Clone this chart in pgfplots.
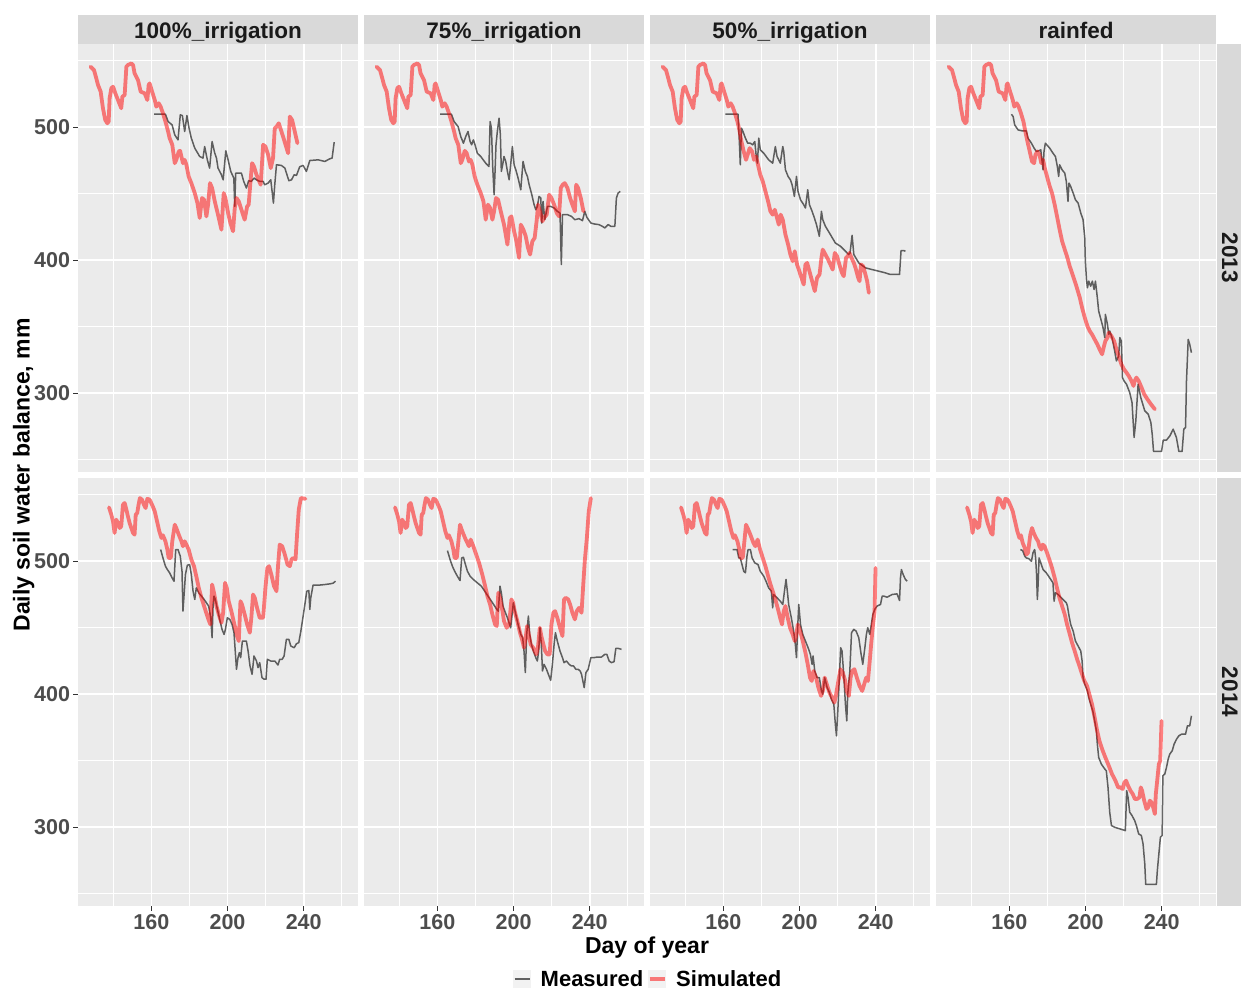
\documentclass[border=0pt]{standalone}
\usepackage{pgfplots}
\pgfplotsset{compat=1.18}
\usepackage{fontspec}
\setmainfont{Liberation Sans}
\definecolor{panelbg}{HTML}{EBEBEB}
\definecolor{stripbg}{HTML}{D9D9D9}
\definecolor{ticktext}{HTML}{4D4D4D}
\definecolor{tickcol}{HTML}{333333}
\definecolor{striptext}{HTML}{1A1A1A}
\definecolor{keybg}{HTML}{F2F2F2}

\pgfplotsset{
  panel/.style={
    scale only axis, width=280pt, height=428pt,
    xmin=121.5, xmax=268.5, ymin=240.8, ymax=562.6,
    axis background/.style={fill=panelbg},
    axis line style={draw=none},
    xtick={160,200,240}, minor xtick={140,180,220,260},
    ytick={300,400,500}, minor ytick={250,350,450,550},
    grid=both,
    major grid style={white, line width=1.6pt},
    minor grid style={white, line width=0.8pt},
    tick align=outside, tick pos=left,
    major tick length=4.5pt, minor tick length=0pt,
    tick style={tickcol, line width=1.2pt},
    /pgf/number format/assume math mode=true,
    ticklabel style={font=\fontsize{21.5}{22}\selectfont\bfseries, text=ticktext},
  },
  noxlab/.style={xticklabels={}, x tick style={draw=none}},
  noylab/.style={yticklabels={}, y tick style={draw=none}},
  meas/.style={black, opacity=0.6, line width=1.5pt, line join=round},
  sim/.style={red, opacity=0.5, line width=3.8pt, line join=round, line cap=round},
}

\begin{document}
\begin{tikzpicture}[x=1pt, y=1pt]
\useasboundingbox (0,0) rectangle (1241,-990);

% ---------------- 2013 ----------------
% 100% irrigation
\begin{axis}[panel, noxlab, at={(78pt,-472pt)}, anchor=south west]
\addplot[meas] coordinates {
(161.4,509.8) (167.4,509.8) (168.8,504.3) (170.9,501.8) (172.3,494.3) (174,490.5) (175.2,509.3) (176.3,508.8)
(177.5,496.8) (178.7,508.8) (179.8,499.3) (181,491.8) (182.8,484.3) (185.4,478) (187.1,476.8) (188,485.5)
(189.4,475.5) (190.6,469.3) (191.9,489.3) (193.3,480.5) (194.2,476.8) (195,469.3) (196.8,464.3) (197.7,460.5)
(199.1,482.3) (200.3,475.5) (201.7,466.8) (203.3,461.8) (203.8,440.5) (204.3,465.5) (207.3,465.5) (208.5,459.3)
(209.9,454.3) (211.1,459.8) (212.5,459.3) (213.9,461.8) (215.2,460.5) (216.9,459.3) (218.7,459.3) (219.5,456.8)
(221.3,458) (222.7,460.5) (223.4,451.8) (224.1,443) (224.8,456.8) (225.7,471.8) (228.3,471.3) (230.1,469.3)
(232.2,459.8) (233.6,460.5) (235,464.3) (236.2,463.8) (237.9,470.3) (239.7,471.3) (241.4,466.8) (243.2,475)
(247.6,475.5) (251.1,474.3) (253.7,476.3) (254.9,476.8) (256,488.8)
};
\addplot[sim] coordinates {
(128.1,545.5) (129.9,543) (131.1,536.8) (132,531.8) (133.4,526.8) (134.6,514.3) (135.8,505.5) (136.9,503)
(137.6,504.3) (138.1,521.8) (139,529.3) (139.9,530.5) (141.1,525.5) (142.5,520.5) (144.2,514.3) (144.8,523)
(146,524.3) (146.9,545.5) (147.7,546.8) (149.5,548) (150.4,546.8) (151.2,540.5) (153,535.5) (154.4,526.8)
(156.5,525.5) (157.9,520.5) (158.6,531.8) (159.1,533) (160.4,526.8) (161.8,520.5) (162.6,515.5) (163.9,518)
(164.9,515.5) (166.1,510.5) (167.4,504.3) (168.8,496.8) (169.6,491.8) (171,486.8) (172.3,473) (173.1,475.5)
(174.4,481.8) (175.1,482.3) (176.6,473) (177.5,475.5) (178.4,471.8) (179.6,463) (181,458) (182.8,450.5)
(184.2,443) (185.4,431.8) (186.6,446.8) (187.7,445.5) (188.9,433) (189.8,441.8) (190.8,458) (191.9,454.3)
(193.3,444.3) (195,434.3) (196.8,423) (198,450.5) (198.9,446.8) (200.3,435.5) (201.5,428) (202.9,421.8)
(203.8,439.3) (204.7,446.8) (205.9,444.3) (207.3,438) (209,430.5) (210.3,440.5) (211.1,441.8) (212.2,461.8)
(212.9,473) (213.9,470.5) (215.2,464.3) (217.4,456.8) (218.7,486.8) (219.9,485.5) (221.3,479.3) (222.7,469.3)
(223.9,476.8) (224.8,499.3) (225.8,500.5) (226.9,503) (228.3,496.8) (229.7,490.5) (231.8,480.5) (232.7,508)
(233.9,505.5) (235.3,496.8) (236.7,488)
};
\end{axis}

% 75% irrigation
\begin{axis}[panel, noxlab, noylab, at={(364pt,-472pt)}, anchor=south west]
\addplot[meas] coordinates {
(161.4,509.8) (167.4,509.8) (168.8,504.3) (170.9,500.5) (172.3,493) (173.7,488) (174.9,493) (176.1,496.8)
(177.2,489.3) (178,486.8) (178.9,490.5) (179.8,486.8) (181,480.5) (182.8,478) (185.4,473) (187.1,470.5)
(187.7,504.3) (188.4,499.3) (189.1,469.3) (189.8,449.3) (190.3,466.8) (190.8,486.8) (191.5,496.8) (192.4,506.8)
(193.1,494.3) (193.6,466.8) (194.3,471.8) (195,478) (195.9,474.3) (196.8,466.8) (197.7,460.5) (198.5,471.8)
(199.4,485.5) (200.3,471.8) (201.2,468) (202.4,461.8) (203.8,453) (205,474.3) (206.2,466.8) (207.3,463)
(208.2,456.8) (209.6,449.3) (210.8,441.8) (211.7,438) (212.5,440.5) (213.4,448) (214.3,446.8) (214.8,428)
(215.5,444.3) (216.4,430.5) (217.3,436.8) (217.8,440.5) (219.5,440.5) (221.3,439.3) (223,436.8) (224.4,435.5)
(225.1,396.8) (225.7,434.3) (228.3,434.3) (230.4,433) (232.2,430.5) (234.4,431.3) (236.2,429.8) (237.4,436.8)
(238.5,432.3) (240.6,428) (242.3,427.3) (244.9,426.8) (246.7,425.5) (247.9,424.3) (249.7,426.8) (251.1,425.5)
(253.2,425.5) (254,446.8) (254.9,450.5) (256,451.8)
};
\addplot[sim] coordinates {
(128.1,545.5) (129.9,543) (131.1,536.8) (132,531.8) (133.4,526.8) (134.6,514.3) (135.8,505.5) (136.9,503)
(137.6,504.3) (138.1,521.8) (139,529.3) (139.9,530.5) (141.1,525.5) (142.5,520.5) (144.2,514.3) (144.8,523)
(146,524.3) (146.9,545.5) (147.7,546.8) (149.5,548) (150.4,546.8) (151.2,540.5) (153,535.5) (154.4,526.8)
(156.5,525.5) (157.9,520.5) (158.6,531.8) (159.1,533) (160.4,526.8) (161.8,520.5) (162.6,515.5) (163.9,518)
(164.9,515.5) (166.1,510.5) (167.4,504.3) (168.8,496.8) (169.6,491.8) (171,486.8) (172.3,473) (173.1,475.5)
(174.4,482.3) (175.4,480.5) (176.6,474.3) (177.5,475.5) (178.4,471.8) (179.6,463) (181,456.8) (182.8,450.5)
(184.2,444.3) (185.4,430.5) (186.6,441.8) (187.7,439.3) (188.9,430.5) (189.8,436.8) (190.8,446.8) (191.9,445.5)
(193.3,436.8) (195,426.8) (196.8,411.8) (198,431.8) (198.9,433) (200.3,421.8) (201.5,414.3) (202.9,401.8)
(203.8,426.8) (205.2,423) (206.4,418) (207.6,409.3) (208.7,404.3) (209.9,414.3) (211.1,416.8) (212.2,430.5)
(212.9,441.8) (213.9,436.8) (215.2,429.3) (216,431.8) (217.4,434.3) (218.7,449.3) (219.9,446.8) (221.3,441.8)
(222.7,435.5) (223.9,433) (224.8,454.3) (225.8,456.8) (226.9,458) (228.3,454.3) (229.7,446.8) (230.9,441.8)
(232.2,436.8) (232.9,456.8) (233.9,454.3) (235.3,446.8) (236.7,436.8)
};
\end{axis}

% 50% irrigation
\begin{axis}[panel, noxlab, noylab, at={(650pt,-472pt)}, anchor=south west]
\addplot[meas] coordinates {
(161.1,509.8) (167.7,509.8) (168.4,489.3) (168.9,471.8) (169.5,499.3) (170.3,496.8) (171.6,491.8) (172.8,488)
(174.2,488) (175.4,486.8) (176.5,489.3) (177.2,479.3) (177.9,473) (178.6,491.8) (179.4,483) (181.2,480.5)
(183.8,475.5) (185.9,473) (187.3,485.5) (188.2,478) (189.1,475.5) (189.9,473) (191.2,485.5) (191.7,481.8)
(192.6,468) (194,463) (195.2,460.5) (196.1,456.8) (197.3,448) (198.4,463) (199.2,451.8) (200.5,445.5)
(202.2,441.8) (203.1,439.3) (204.3,453) (205.2,441.8) (206.6,436.8) (207.8,431.8) (208.9,426.8) (210.4,418)
(211.5,436.8) (212.2,430.5) (213.6,425.5) (216.2,419.3) (218.8,413) (221.5,410.5) (224.1,406.8) (225.8,404.3)
(226.5,405.5) (227.6,418.8) (228.5,404.3) (231.1,398) (234.6,394.3) (238.1,393) (241.6,391.8) (245.1,390.5)
(247.7,389.3) (250.4,389.3) (252.5,389.3) (253.3,407.3) (254.7,407.3) (255.6,406.8)
};
\addplot[sim] coordinates {
(128.1,545.5) (129.9,543) (131.1,536.8) (132,531.8) (133.4,526.8) (134.6,514.3) (135.8,505.5) (136.9,503)
(137.6,504.3) (138.1,521.8) (139,529.3) (139.9,530.5) (141.1,525.5) (142.5,520.5) (144.2,514.3) (144.8,523)
(146,524.3) (146.9,545.5) (147.7,546.8) (149.5,548) (150.4,546.8) (151.2,540.5) (153,535.5) (154.4,526.8)
(156.5,525.5) (157.9,520.5) (158.6,531.8) (159.1,533) (160.4,526.8) (161.8,520.5) (162.6,515.5) (163.9,518)
(164.9,515.5) (166.1,510.5) (167.4,504.3) (168.4,498) (169.5,489.3) (170.7,481.8) (171.9,475.5) (173,480.5)
(173.8,484.3) (175.1,481.8) (176.1,475.5) (177.2,478) (178.2,471.8) (179.4,464.3) (180.7,459.3) (182.1,451.8)
(183.5,444.3) (184.7,436.8) (185.9,434.3) (187,438) (188.2,431.8) (189.1,426.8) (190.1,434.3) (191.2,430.5)
(192.6,419.3) (194,411.8) (195.2,404.3) (196.4,399.3) (197.5,406.8) (198.7,396.8) (199.9,391.8) (201,386.8)
(202.2,381.8) (203.1,396.8) (204,398) (205.2,391.8) (206.6,384.3) (208,376.8) (209.2,386.8) (210.5,389.3)
(211.5,401.8) (212.2,408) (213.6,404.3) (215,400.5) (216.2,396.8) (217.4,393) (218.5,405.5) (219.7,403)
(220.9,396.8) (222.3,390.5) (223.2,388) (224.4,401.8) (225.3,403) (226.2,405.5) (227.3,401.8) (228.5,398)
(229.4,394.3) (230.8,386.8) (231.5,384.3) (232.3,396.8) (233.4,395.5) (234.6,389.3) (235.5,384.3) (236.4,375.5)
};
\end{axis}

% rainfed
\begin{axis}[panel, noxlab, noylab, at={(936pt,-472pt)}, anchor=south west]
\addplot[meas] coordinates {
(161.1,509.8) (162,508) (162.8,501.8) (164.6,498) (166.7,497.3) (168.9,497.3) (169.8,491.8) (171.6,488)
(173,484.3) (174.2,481.8) (175.4,482.3) (176.5,483) (177.2,474.3) (177.7,468) (178.2,481.8) (178.9,488)
(181.2,484.3) (182.9,480.5) (184.2,478) (185.2,470.5) (185.9,463) (186.4,471.8) (187.7,468) (189.1,465.5)
(189.9,459.3) (190.8,444.3) (191.3,458) (192.2,455.5) (193.5,450.5) (194.7,445.5) (196.1,443) (197.5,435.5)
(198.7,430.5) (199.6,416.8) (199.9,399.3) (200.5,385.5) (201,379.3) (201.7,384.3) (202.7,380.5) (203.6,384.3)
(204.5,378) (205.2,384.3) (206.2,371.8) (206.9,361.8) (208.3,354.3) (209.2,349.3) (210.1,341.8) (210.4,359.3)
(211.5,351.8) (212.2,344.3) (212.7,346.8) (213.9,341.8) (215.3,331.8) (216.2,324.3) (217.4,328) (218,341.8)
(218.8,339.3) (219.4,311.8) (220.2,309.3) (221.5,306.8) (223.2,300.5) (224.4,293) (225.5,266.8) (226.4,279.3)
(227.6,306.8) (229,296.8) (231.1,286.8) (232.9,284.3) (234.3,278) (235,269.3) (235.7,256.3) (239.9,256.3)
(240.8,264.8) (242.5,264.8) (244.3,268) (246,273) (247.7,266.8) (249,256.3) (250.7,256.3) (251.6,273)
(252.5,274.3) (253,309.3) (253.9,340.5) (254.7,336.8) (255.6,330.5)
};
\addplot[sim] coordinates {
(128.1,545.5) (129.9,543) (131.1,536.8) (132,531.8) (133.4,526.8) (134.6,514.3) (135.8,505.5) (136.9,503)
(137.6,504.3) (138.1,521.8) (139,529.3) (139.9,530.5) (141.1,525.5) (142.5,520.5) (144.2,514.3) (144.8,523)
(146,524.3) (146.9,545.5) (147.7,546.8) (149.5,548) (150.4,546.8) (151.2,540.5) (153,535.5) (154.4,526.8)
(156.5,525.5) (157.9,520.5) (158.6,531.8) (159.1,533) (160.4,526.8) (161.8,520.5) (162.6,515.5) (163.9,518)
(164.9,515.5) (166.1,510.5) (167.4,504.3) (168.4,496.8) (169.5,489.3) (170.7,481.8) (171.9,474.3) (173,473)
(173.7,479.3) (174.7,481.8) (175.8,479.3) (176.8,473) (177.7,475.5) (178.6,469.3) (180,461.8) (181.2,455.5)
(182.4,450.5) (183.8,441.8) (185.2,431.8) (186.4,423) (187.7,414.3) (189.1,408) (190.5,401.8) (191.7,395.5)
(193.5,388) (195.2,380.5) (197,371.8) (198.2,364.3) (199.6,356.8) (201,350.5) (202.2,346.8) (203.4,344.3)
(204.8,340.5) (206.2,336.8) (207.4,333) (208.7,329.3) (209.7,335.5) (210.4,339.3) (211.5,341.8) (212.2,345.5)
(213.6,343) (215,339.3) (216.2,333) (217.4,328) (218.8,321.8) (220.2,318) (221.5,315.5) (222.7,313)
(224.1,309.3) (225.2,305.5) (225.8,309.3) (226.7,311.8) (227.9,309.3) (229.4,304.3) (230.8,299.3) (232.5,295.5)
(234.3,291.8) (236.4,288)
};
\end{axis}

% ---------------- 2014 ----------------
% 100% irrigation
\begin{axis}[panel, at={(78pt,-906pt)}, anchor=south west]
\addplot[meas] coordinates {
(164.9,508.8) (166.1,502.5) (167.4,496.3) (168.4,493.8) (169.6,491.3) (170.9,487.5) (171.9,485) (172.8,508.8)
(174,508.8) (175.2,503.8) (176.1,492.5) (176.6,462.5) (177.2,475) (177.9,490) (178.9,497) (180.1,497.5)
(181,490) (181.9,477.5) (182.8,471.3) (183.6,480) (184.9,476.3) (186.3,473.8) (187.7,471.3) (188.9,468.8)
(190.1,466.3) (191.2,457.5) (191.9,442.5) (192.4,466.3) (192.9,473.8) (193.6,471.3) (194.7,463.8) (195.9,456.3)
(197.1,448.8) (198.2,445) (198.9,448.8) (199.9,457.5) (201.2,456.3) (202.4,452.5) (203.4,446.3) (204.7,418.8)
(205.5,427.5) (206.2,431.3) (206.9,427.5) (207.8,440) (209,440) (209.9,440) (210.8,432.5) (211.8,421.3)
(212.9,415) (213.9,428.8) (215.2,425) (216,420) (216.9,423.8) (218.1,412.5) (219.2,411.3) (220.2,411.3)
(220.9,426.3) (222.7,425) (224.8,425) (226.5,422) (227.4,426.3) (228.7,426.3) (229.7,428.8) (230.9,441.3)
(232.2,441.3) (233.2,436.3) (235,435) (236.2,438) (237.4,438.8) (238.5,447.5) (239.7,458.8) (240.6,467.5)
(241.6,477.5) (242.7,478) (243.2,463.8) (243.7,472.5) (244.9,482) (247.6,482) (251.1,482.5) (253.7,483)
(255.4,483.5) (256.7,485)
};
\addplot[sim] coordinates {
(137.8,540.5) (139,535) (139.9,530) (140.7,521.3) (141.6,531.3) (142.5,528.8) (143.4,525) (144.2,526.3)
(145.1,542.5) (146,543.8) (146.9,538.8) (147.7,533.8) (148.6,528.8) (149.5,525) (150.4,521.3) (151.2,520)
(151.8,535) (152.6,536.3) (153.3,542.5) (154,547.5) (155.1,546.3) (156.1,542.5) (157,540) (157.9,547)
(159.1,546.3) (160.4,542.5) (161.8,537.5) (163,530) (164.2,522.5) (165.3,517.5) (166.1,519.5) (167.4,515)
(168.4,508.8) (169.1,502.5) (170.2,502.5) (171,515) (172.3,527.5) (173.1,525) (174.4,520) (175.8,515)
(176.6,511.3) (177.5,515) (178.4,512.5) (179.6,508.8) (181,501.3) (182.4,496.3) (183.6,488.8) (184.9,480)
(186.3,472.5) (187.7,466.3) (189.1,460) (190.3,455) (191,452.5) (191.9,482.5) (192.9,476.3) (194.2,466.3)
(195.4,460) (196.8,453.8) (197.7,461.3) (198.7,483.8) (199.6,480) (200.6,470) (202,462.5) (203.8,451.3)
(205,443.8) (205.9,440) (206.8,470) (207.6,467.5) (209,460) (210.3,452.5) (211.7,446.3) (212.5,457.5)
(213.4,475) (214.3,472.5) (215.5,465) (216.9,457.5) (218.7,457.5) (219.9,480) (220.9,495) (221.8,496.3)
(223,490) (224.4,481.3) (225.7,477.5) (226.5,496.3) (227.4,512.5) (228.7,511.3) (230.1,505) (231.5,497.5)
(232.7,496.3) (233.6,501.3) (234.4,502.5) (235.7,501.3) (236.5,520) (237.4,538.8) (238.5,547.5) (240.9,547)
};
\end{axis}

% 75% irrigation
\begin{axis}[panel, noylab, at={(364pt,-906pt)}, anchor=south west]
\addplot[meas] coordinates {
(165.3,508) (166.7,501.3) (167.9,496.3) (169.1,492.5) (170.5,488.8) (171.9,485.5) (172.8,502.5) (173.7,503)
(174.5,498.8) (175.8,492.5) (177.2,488.8) (178.9,486.3) (181,483.8) (183.1,481.3) (184.9,477.5) (186.6,473.8)
(188.4,470) (190.1,466.3) (191.2,463.8) (192,462.5) (192.9,481.3) (193.6,476.3) (194.5,466.3) (195.4,462.5)
(196.8,457.5) (198.5,450) (199.9,468.8) (201.2,460) (202.4,452.5) (203.8,445) (204.8,442.5) (205.5,432.5)
(206.2,416.3) (206.9,445) (207.8,458.8) (208.5,445) (209.4,437.5) (210.4,432.5) (211.7,427.5) (212.5,425)
(213.2,432.5) (213.9,450) (214.6,437.5) (215.2,417.5) (216,422.5) (217.3,418.8) (218.3,415) (219.5,410.5)
(220.4,422.5) (221.3,437.5) (222,446.3) (223,440) (224.4,432.5) (225.7,427.5) (226.5,423.8) (227.8,425)
(229.2,422.5) (230.4,421.3) (231.5,421.3) (232.7,418.8) (233.9,418.8) (235,417.5) (235.7,415) (236.4,410)
(237.1,405) (238,416.3) (239.2,418.8) (240.6,427.5) (242,427.5) (244.1,428) (246.2,428) (247.9,430)
(249,430) (250.2,425) (251.4,423.8) (252.8,424.5) (253.7,434.5) (254.9,434.5) (256.7,433.8)
};
\addplot[sim] coordinates {
(137.8,540.5) (139,535) (139.9,530) (140.7,521.3) (141.6,531.3) (142.5,528.8) (143.4,525) (144.2,526.3)
(145.1,542.5) (146,543.8) (146.9,538.8) (147.7,533.8) (148.6,528.8) (149.5,525) (150.4,521.3) (151.2,520)
(151.8,535) (152.6,536.3) (153.3,542.5) (154,547.5) (155.1,546.3) (156.1,542.5) (157,540) (157.9,547)
(159.1,546.3) (160.4,542.5) (161.8,537.5) (163,530) (164.2,522.5) (165.3,517.5) (166.1,519.5) (167.4,515)
(168.4,508.8) (169.1,502.5) (170.2,502.5) (171.9,527.5) (173.1,522.5) (174.9,516.3) (176.6,511.3) (177.5,516.3)
(178.9,511.3) (180.1,506.3) (181.9,498.8) (183.6,490) (184.9,482.5) (186.3,473.8) (187.7,467.5) (188.9,460)
(190.3,452.5) (191.2,451.3) (192,476.3) (192.9,472.5) (194.2,462.5) (195,455) (196.4,450) (197.7,452.5)
(198.9,471.3) (199.8,468.8) (200.6,462.5) (202,455) (203.4,446.3) (204.7,440) (205.5,435) (206.4,442.5)
(207.1,451.3) (208,445) (209,437.5) (210.3,435) (211.1,432.5) (212,430) (212.9,436.3) (213.8,450)
(214.6,443.8) (215.7,437.5) (216.6,432.5) (217.8,430) (219,430) (219.9,452.5) (220.9,461.3) (221.8,462.5)
(223,457.5) (224.4,450) (225.7,443.8) (226.5,471.3) (227.4,472.5) (228.7,471.3) (229.7,467.5) (230.9,461.3)
(232.2,456.3) (233.2,462.5) (234.4,465) (235.7,461.3) (236.5,480) (237.4,500) (238.5,517.5) (239.5,537.5)
(240.6,547.5)
};
\end{axis}

% 50% irrigation
\begin{axis}[panel, noylab, at={(650pt,-906pt)}, anchor=south west]
\addplot[meas] coordinates {
(164.9,508.8) (167.2,508.8) (168.1,502.5) (168.9,502.5) (169.8,497.5) (170.7,492.5) (171.6,491.3) (172.4,503.8)
(173,508.8) (174.2,508.8) (175.1,502.5) (176.5,498.8) (178.2,497.5) (179.4,492.5) (181.2,488.8) (182.4,485)
(183.8,480) (185.2,477.5) (185.9,465) (186.4,475) (188.2,472.5) (189.9,470) (191.2,467.5) (192.2,478.8)
(192.9,486.3) (193.6,477.5) (194.3,467.5) (195.7,457.5) (196.9,447.5) (197.8,437.5) (198.4,427.5) (199.1,452.5)
(199.6,467.5) (200.5,452.5) (201.7,445) (203.1,440) (204.5,435) (205.7,430) (206.6,422.5) (207.1,428.8)
(208,417.5) (209.2,412.5) (210.4,412.5) (211.5,402.5) (212.2,400) (213.2,412.5) (214.5,405) (215.7,401.3)
(216.7,396.3) (218,392.5) (218.8,377.5) (219.4,368.8) (220.1,387.5) (220.9,412.5) (221.6,435) (222.3,432.5)
(223.2,415) (224.1,392.5) (224.8,380) (225.3,400) (226.4,417.5) (227.3,446.3) (228.5,448.8) (229.7,447.5)
(231.1,442.5) (232.2,431.3) (233.2,422.5) (234.3,435) (235.1,445) (235.8,450) (236.9,445) (237.7,452.5)
(238.5,460) (239.5,463.8) (240.7,466.3) (242.5,467.5) (243.4,473.8) (244.2,473.8) (246,473) (248.6,475)
(251.2,475.5) (252.5,470.5) (253,487.5) (253.5,493.8) (254.4,490) (255.6,486.3) (256.5,485)
};
\addplot[sim] coordinates {
(137.8,540.5) (139,535) (139.9,530) (140.7,521.3) (141.6,531.3) (142.5,528.8) (143.4,525) (144.2,526.3)
(145.1,542.5) (146,543.8) (146.9,538.8) (147.7,533.8) (148.6,528.8) (149.5,525) (150.4,521.3) (151.2,520)
(151.8,535) (152.6,536.3) (153.3,542.5) (154,547.5) (155.1,546.3) (156.1,542.5) (157,540) (157.9,547)
(159.1,546.3) (160.4,542.5) (161.8,537.5) (163,530) (164.2,522.5) (165.3,517.5) (166.1,519.5) (167.4,515)
(168.4,508.8) (169.1,502.5) (170.2,502.5) (171.9,527.5) (173.1,523.8) (174.5,518.8) (175.8,513.8) (176.8,511.3)
(178,516.3) (179.3,508.8) (180.7,502.5) (182.1,496.3) (183.3,490) (184.5,483.8) (185.9,477.5) (187.3,471.3)
(188.5,465) (189.8,457.5) (190.8,452.5) (191.7,462.5) (192.6,466.3) (193.8,457.5) (195,450) (196.4,445)
(197.5,440) (198.2,443.8) (199.1,452.5) (200.3,447.5) (201.7,440) (203.1,431.3) (204.3,422.5) (205.5,412.5)
(206.4,410) (207.3,417.5) (208.7,412.5) (209.9,405) (211.3,398.8) (212.2,402.5) (213.2,412.5) (214.3,407.5)
(215.7,401.3) (217.1,397.5) (218.3,393.8) (219.2,400) (220.4,410) (221.5,418.8) (222.7,416.3) (224,410)
(224.8,402.5) (225.9,398.8) (226.8,412.5) (227.6,417.5) (228.8,418.8) (230.1,412.5) (231.5,406.3) (232.9,402.5)
(234.1,408.3) (235,412.5) (235.9,410) (236.7,422.5) (237.6,437.5) (238.5,451.3) (239.4,462.5) (239.9,495)
};
\end{axis}

% rainfed
\begin{axis}[panel, noylab, at={(936pt,-906pt)}, anchor=south west]
\addplot[meas] coordinates {
(165.8,508.8) (167,508) (168.1,503.8) (168.9,502.5) (170.2,502) (171.6,500) (172.4,506.3) (173.3,508.8)
(173.8,502.5) (174.3,490) (174.7,471.3) (175.1,482.5) (175.6,502.5) (176.5,498.8) (177.7,493.8) (179.4,491.3)
(181.2,487.5) (182.9,483.8) (183.5,470) (184.2,476.3) (185.6,475) (187.3,472.5) (189.9,468.8) (190.5,466.3)
(191.2,460) (192.2,452.5) (193.5,447.5) (194.7,440) (196.1,436.3) (197.5,432.5) (198.2,425) (198.7,412.5)
(199.6,407.5) (201,402.5) (201.7,397.5) (202.7,392.5) (203.8,387.5) (204.8,380) (205.7,372.5) (206.2,362.5)
(206.9,352.5) (208.3,347.5) (210.1,343.8) (210.9,342.5) (211.8,330) (212.7,311.3) (213.6,301.3) (215.3,300)
(218,298.8) (220.9,297.5) (221.6,327.5) (222.3,322.5) (223.2,311.3) (224.4,308.8) (225.8,305) (226.7,301.3)
(227.9,295) (229.3,293.8) (230.2,287.5) (231.1,272.5) (231.6,257) (237.2,257) (237.7,267.5) (238.5,280)
(239.3,292.5) (240.2,293.8) (240.6,338.8) (241.6,340) (242.5,345) (243.4,351.3) (244.2,355) (245.5,357.5)
(246.5,362.5) (247.8,366.3) (249,368.8) (250.4,370) (252.5,370) (253.5,376.3) (254.7,376.3) (255.6,383.8)
};
\addplot[sim] coordinates {
(137.8,540.5) (139,535) (139.9,530) (140.7,521.3) (141.6,531.3) (142.5,528.8) (143.4,525) (144.2,526.3)
(145.1,542.5) (146,543.8) (146.9,538.8) (147.7,533.8) (148.6,528.8) (149.5,525) (150.4,521.3) (151.2,520)
(151.8,535) (152.6,536.3) (153.3,542.5) (154,547.5) (155.1,546.3) (156.1,542.5) (157,540) (157.9,547)
(159.1,546.3) (160.4,542.5) (161.8,537.5) (163,530) (164.2,522.5) (165.3,517.5) (166.1,519.5) (167,513.8)
(168.1,510) (168.9,505) (169.8,506.3) (171,520) (171.9,525) (172.8,521.3) (174,517.5) (175.1,515)
(175.8,511.3) (176.8,508.8) (177.5,512.5) (178.5,511.3) (179.8,506.3) (181,501.3) (182.4,495) (183.8,487.5)
(185,480) (186.3,472.5) (187.7,466.3) (189.1,460) (190.3,452.5) (191.5,446.3) (192.9,438.8) (194.3,432.5)
(195.6,426.3) (196.8,421.3) (198.2,415) (199.4,410) (200.8,406.3) (202,400) (203.4,392.5) (204.8,382.5)
(206.1,372.5) (207.3,365) (208.7,358.8) (210.4,352.5) (212.2,346.3) (213.9,340) (215.7,335) (217.1,330)
(218.3,330) (219.5,328.8) (220.4,333.8) (221.3,335) (222.3,331.3) (223.6,327.5) (224.8,325) (225.9,321.3)
(227.1,321.3) (228.3,322.5) (229,330) (229.7,327.5) (230.8,320) (232,313.8) (232.9,315) (233.7,320)
(234.6,318.8) (235.5,315) (236.4,310) (236.9,325) (237.8,337.5) (238.5,347.5) (239.2,350) (239.9,380)
};
\end{axis}

% ---------------- strips ----------------
\begin{scope}[every node/.style={font=\fontsize{22.5}{23}\selectfont\bfseries, text=striptext}]
\fill[stripbg] (78,-15) rectangle (358,-44);
\node[anchor=base] at (218,-38.5) {100\%\_irrigation};
\fill[stripbg] (364,-15) rectangle (644,-44);
\node[anchor=base] at (504,-38.5) {75\%\_irrigation};
\fill[stripbg] (650,-15) rectangle (930,-44);
\node[anchor=base] at (790,-38.5) {50\%\_irrigation};
\fill[stripbg] (936,-15) rectangle (1216,-44);
\node[anchor=base] at (1076,-38.5) {rainfed};
\fill[stripbg] (1217,-44) rectangle (1241,-472);
\node[rotate=-90, anchor=base] at (1222,-258) {2013};
\fill[stripbg] (1217,-478) rectangle (1241,-906);
\node[rotate=-90, anchor=base] at (1222,-692) {2014};
\end{scope}

% ---------------- axis titles ----------------
\node[anchor=base, font=\fontsize{23}{24}\selectfont\bfseries] at (647,-953) {Day of year};
\node[anchor=base, font=\fontsize{23}{24}\selectfont\bfseries, rotate=90] at (29.5,-475) {Daily soil water balance, mm};

% ---------------- legend ----------------
\fill[keybg] (513,-970) rectangle (531,-988);
\draw[black, opacity=0.6, line width=2.2pt] (514.5,-979) -- (529.5,-979);
\node[anchor=base west, inner sep=0pt, font=\fontsize{22}{23}\selectfont\bfseries] at (540.5,-986.5) {Measured};
\fill[keybg] (648,-970) rectangle (666,-988);
\draw[red, opacity=0.5, line width=3.8pt] (649.5,-979) -- (664.5,-979);
\node[anchor=base west, inner sep=0pt, font=\fontsize{22}{23}\selectfont\bfseries] at (676,-986.5) {Simulated};
\end{tikzpicture}
\end{document}
